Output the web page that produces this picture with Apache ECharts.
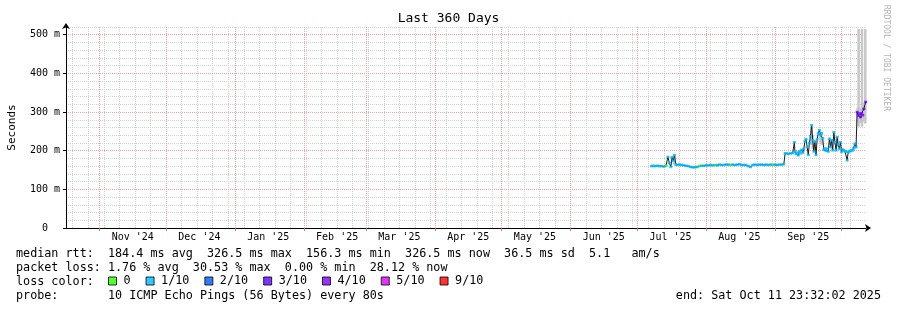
<!DOCTYPE html>
<html>
<head>
<meta charset="utf-8">
<script src="https://cdn.jsdelivr.net/npm/echarts@6/dist/echarts.min.js"></script>
<style>
html,body{margin:0;padding:0;background:#fff;}
#chart{width:897px;height:310px;}
</style>
</head>
<body>
<div id="chart"></div>
<script>
// ---------------- data ----------------
const endTime = '2025-10-11 23:32:02';
const spanDays = 360;

const monthStarts = ['2024-11-01','2024-12-01','2025-01-01','2025-02-01','2025-03-01','2025-04-01','2025-05-01','2025-06-01','2025-07-01','2025-08-01','2025-09-01','2025-10-01'];
const monthLabels = ["Nov '24","Dec '24","Jan '25","Feb '25","Mar '25","Apr '25","May '25","Jun '25","Jul '25","Aug '25","Sep '25","Oct '25"];
const firstWeekLine = '2024-10-20';

const yTickValues = [0,100,200,300,400,500];
const yTickLabels = ['0  ','100 m','200 m','300 m','400 m','500 m'];
const yMinorValues = [20,40,60,80,120,140,160,180,220,240,260,280,320,340,360,380,420,440,460,480,520];

const rttTimes = [
 '2025-07-07 12:00','2025-07-08 00:00','2025-07-09 00:00','2025-07-10 00:00','2025-07-11 00:00','2025-07-12 00:00','2025-07-13 00:00',
 '2025-07-14 00:00','2025-07-14 20:00','2025-07-15 12:00','2025-07-16 04:00','2025-07-16 16:00','2025-07-17 06:00','2025-07-17 20:00','2025-07-18 10:00',
 '2025-07-19 00:00','2025-07-20 00:00','2025-07-21 00:00','2025-07-22 00:00','2025-07-23 00:00','2025-07-24 00:00','2025-07-25 00:00',
 '2025-07-26 00:00','2025-07-27 00:00','2025-07-28 00:00','2025-07-29 00:00','2025-07-30 00:00','2025-07-31 00:00',
 '2025-08-01 00:00','2025-08-02 00:00','2025-08-03 00:00','2025-08-04 00:00','2025-08-05 00:00','2025-08-06 00:00','2025-08-07 00:00',
 '2025-08-08 00:00','2025-08-09 00:00','2025-08-10 00:00','2025-08-11 00:00','2025-08-12 00:00','2025-08-13 00:00','2025-08-14 00:00',
 '2025-08-15 00:00','2025-08-16 00:00','2025-08-17 00:00','2025-08-18 00:00','2025-08-19 00:00','2025-08-20 00:00','2025-08-21 00:00',
 '2025-08-22 00:00','2025-08-23 00:00','2025-08-24 00:00','2025-08-25 00:00','2025-08-26 00:00','2025-08-27 00:00','2025-08-28 00:00',
 '2025-08-29 00:00','2025-08-30 00:00','2025-08-31 00:00','2025-09-01 00:00','2025-09-02 00:00','2025-09-03 00:00','2025-09-04 00:00',
 '2025-09-05 00:00','2025-09-05 14:00','2025-09-06 00:00','2025-09-07 00:00','2025-09-08 00:00','2025-09-09 00:00','2025-09-09 18:00',
 '2025-09-10 00:00','2025-09-10 12:00','2025-09-11 00:00','2025-09-11 12:00','2025-09-12 00:00','2025-09-12 12:00','2025-09-13 00:00',
 '2025-09-13 12:00','2025-09-14 00:00','2025-09-14 12:00','2025-09-15 00:00','2025-09-15 12:00','2025-09-16 00:00','2025-09-16 12:00',
 '2025-09-17 00:00','2025-09-17 12:00','2025-09-18 00:00','2025-09-18 12:00','2025-09-19 00:00','2025-09-19 12:00','2025-09-20 00:00',
 '2025-09-20 12:00','2025-09-21 00:00','2025-09-21 12:00','2025-09-22 00:00','2025-09-22 12:00','2025-09-23 00:00','2025-09-23 12:00',
 '2025-09-24 00:00','2025-09-24 12:00','2025-09-25 00:00','2025-09-25 12:00','2025-09-26 00:00','2025-09-26 12:00','2025-09-27 00:00',
 '2025-09-27 12:00','2025-09-28 00:00','2025-09-28 12:00','2025-09-29 00:00','2025-09-29 12:00','2025-09-30 00:00','2025-09-30 12:00',
 '2025-10-01 00:00','2025-10-01 12:00','2025-10-02 00:00','2025-10-02 12:00','2025-10-03 00:00','2025-10-03 12:00','2025-10-04 00:00',
 '2025-10-04 12:00','2025-10-05 00:00','2025-10-05 12:00','2025-10-06 00:00','2025-10-06 12:00','2025-10-07 00:00','2025-10-07 12:00',
 '2025-10-08 00:00','2025-10-08 12:00','2025-10-09 00:00','2025-10-09 12:00','2025-10-10 00:00','2025-10-10 12:00','2025-10-11 00:00',
 '2025-10-11 20:00'
];
const rttValues = [
 160,161,160,161,160,160,159,
 161,184,168,158,183,174,188,164,
 163,164,163,162,161,160,158,
 157,157,158,160,161,161,
 162,162,163,162,163,162,164,
 163,163,164,164,163,164,163,
 164,165,163,163,163,160,158,
 163,164,163,164,164,163,164,
 163,164,163,164,163,164,164,
 165,193,193,192,193,194,222,
 198,192,195,188,198,193,202,
 195,205,224,230,210,189,220,
 237,266,227,198,224,189,230,
 245,253,240,245,232,202,206,
 200,205,198,231,210,227,201,
 248,222,201,235,215,205,222,
 197,203,201,199,197,175,197,
 199,199,201,201,206,218,210,
 300,291,296,287,297,292,308,
 326
];
const lossTenths = [
 1,1,1,1,1,1,1,
 0,1,1,1,1,1,1,1,
 1,1,1,1,1,1,1,
 1,1,1,0,1,1,
 1,1,1,1,0,1,1,
 1,1,1,1,0,1,1,
 1,1,1,1,1,1,1,
 1,1,1,1,1,1,1,
 1,1,0,1,1,1,1,
 1,1,1,1,1,1,1,
 1,1,1,1,1,1,1,
 1,1,1,1,1,1,1,
 1,1,1,1,1,1,1,
 1,1,1,1,1,1,1,
 1,1,1,1,1,1,1,
 1,1,1,1,1,1,1,
 1,1,1,1,1,1,1,
 1,1,1,1,1,1,1,
 3,4,3,3,4,3,3,
 3
];

const smokeTimes = ['2025-07-17 12:00','2025-09-17 12:00','2025-09-18 00:00','2025-09-21 12:00','2025-09-22 00:00','2025-09-26 12:00','2025-09-29 00:00','2025-10-07 12:00',
 '2025-10-08 06:00','2025-10-08 16:00','2025-10-09 06:00','2025-10-10 04:00','2025-10-10 18:00','2025-10-11 06:00','2025-10-11 16:00'];
const smokeLow  = [165,215,205,220,215,205,210,205, 272,262,272,262,275,280,270];
const smokeHigh = [190,262,240,250,248,228,238,222, 312,515,310,515,318,325,515];

const lossNames  = ['0','1/10','2/10','3/10','4/10','5/10','9/10'];
const lossBins   = [0,1,2,3,4,5,9];
const lossColors = ['#26ff00','#00b8ff','#0059ff','#5e00ff','#7e00ff','#dd00ff','#ff0000'];

const textRows = [
 'median rtt:  184.4 ms avg  326.5 ms max  156.3 ms min  326.5 ms now  36.5 ms sd  5.1   am/s',
 'packet loss: 1.76 % avg  30.53 % max  0.00 % min  28.12 % now',
 'loss color:',
 'probe:       10 ICMP Echo Pings (56 Bytes) every 80s'
];
const endText = 'end: Sat Oct 11 23:32:02 2025';
const titleText = 'Last 360 Days';
const watermark = 'RRDTOOL / TOBI OETIKER';

// ---------------- helpers ----------------
function toMs(s){
  const m = s.match(/(\d+)-(\d+)-(\d+)(?:[ T](\d+):(\d+)(?::(\d+))?)?/);
  return Date.UTC(+m[1], +m[2]-1, +m[3], +(m[4]||0), +(m[5]||0), +(m[6]||0));
}
const DAY = 86400000;
const endMs = toMs(endTime);
const startMs = endMs - spanDays*DAY;
const monthMs = monthStarts.map(toMs);
const labelMs = monthMs.map(v => v + 15*DAY);
const labelMap = {};
labelMs.forEach((v,i)=>{ labelMap[v] = monthLabels[i]; });
const weekMs = [];
for (let t = toMs(firstWeekLine); t <= endMs; t += 7*DAY) weekMs.push(t);
const yLabelMap = {};
yTickValues.forEach((v,i)=>{ yLabelMap[v] = yTickLabels[i]; });

const MONO = '"DejaVu Sans Mono", monospace';
const textFont = '11.75px "DejaVu Sans Mono", monospace';

const lineData = rttTimes.map((t,i)=>[toMs(t), rttValues[i]]);
function binIndex(l){ let k = 0; for (let j=0;j<lossBins.length;j++) if (l >= lossBins[j]) k = j; return k; }
const lossSeries = lossNames.map((name, k) => ({
  name: name,
  type: 'scatter',
  xAxisIndex: 0, yAxisIndex: 0,
  symbol: 'rect',
  symbolSize: [3, 2.5],
  silent: true,
  z: 4,
  itemStyle: { color: lossColors[k] },
  data: rttTimes.map((t,i)=>[toMs(t), rttValues[i], lossTenths[i]]).filter(d => binIndex(d[2]) === k).map(d=>[d[0], d[1]])
}));
const smokeData = smokeTimes.map((t,i)=>[toMs(t), smokeLow[i], smokeHigh[i]]);

const chart = echarts.init(document.getElementById('chart'), null, {renderer:'canvas'});
const option = {
  backgroundColor: '#ffffff',
  animation: false,
  grid: { left: 66, right: 31, top: 27, bottom: 82, containLabel: false, outerBoundsMode: 'none' },
  legend: {
    data: lossNames,
    left: 108, top: 275,
    padding: 0,
    itemWidth: 8, itemHeight: 8, itemGap: 15,
    icon: 'rect',
    selectedMode: false,
    itemStyle: { borderColor: '#000', borderWidth: 1 },
    textStyle: { fontSize: 11.75, fontFamily: MONO, color: '#000', padding: [0,0,0,2] }
  },
  xAxis: [
    {
      type: 'value', min: startMs, max: endMs, position: 'bottom', z: 2,
      axisLine: { show: true, onZero: false, lineStyle: { color: '#000', width: 1 }, symbol: ['none','arrow'], symbolSize: [6,6], symbolOffset: [0,5] },
      axisTick: { show: true, length: 3, customValues: monthMs, lineStyle: { color: '#e07070' } },
      axisLabel: { customValues: labelMs, formatter: v => labelMap[v] || '', fontSize: 10, fontFamily: MONO, color: '#000', margin: 4 },
      splitLine: { show: true, lineStyle: { color: '#eda3a3', type: [1,1], width: 1 } }
    },
    {
      type: 'value', min: startMs, max: endMs, position: 'top', z: 1,
      axisLine: { show: false },
      axisTick: { show: false, customValues: weekMs },
      axisLabel: { show: false },
      splitLine: { show: true, lineStyle: { color: '#d2d2d2', type: [1,1], width: 1 } }
    }
  ],
  yAxis: [
    {
      type: 'value', min: 0, max: 520, position: 'left', z: 2,
      name: 'Seconds', nameLocation: 'middle', nameGap: 48,
      nameTextStyle: { fontSize: 11, fontFamily: MONO, color: '#000' },
      axisLine: { show: true, onZero: false, lineStyle: { color: '#000', width: 1 }, symbol: ['none','arrow'], symbolSize: [6,6], symbolOffset: [0,4] },
      axisTick: { show: true, length: 3, customValues: yTickValues, lineStyle: { color: '#000' } },
      axisLabel: { customValues: yTickValues, formatter: v => (v in yLabelMap ? yLabelMap[v] : ''), fontSize: 10, fontFamily: MONO, color: '#000', margin: 6 },
      splitLine: { show: true, lineStyle: { color: '#eda3a3', type: [1,1], width: 1 } }
    },
    {
      type: 'value', min: 0, max: 520, position: 'right', z: 1,
      axisLine: { show: false },
      axisTick: { show: false, customValues: yMinorValues },
      axisLabel: { show: false },
      splitLine: { show: true, lineStyle: { color: '#d2d2d2', type: [1,1], width: 1 } }
    }
  ],
  series: [
    {
      name: 'smoke', type: 'custom', xAxisIndex: 0, yAxisIndex: 0, silent: true, z: 2,
      encode: { x: 0, y: [1,2] },
      data: smokeData,
      renderItem: function (params, api) {
        const top = api.coord([api.value(0), api.value(2)]);
        const bot = api.coord([api.value(0), api.value(1)]);
        return { type: 'rect', shape: { x: top[0]-1.25, y: top[1], width: 2.5, height: bot[1]-top[1] }, style: { fill: '#c6c6c6' } };
      }
    },
    {
      name: 'median', type: 'line', xAxisIndex: 0, yAxisIndex: 0, silent: true, z: 3,
      showSymbol: false, symbol: 'none',
      lineStyle: { color: '#1a1a1a', width: 1 },
      data: lineData
    }
  ].concat(lossSeries),
  graphic: [
    { type: 'text', x: 448.5, y: 19, style: { text: titleText, font: '13px "DejaVu Sans Mono", monospace', fill: '#000', align: 'center', verticalAlign: 'middle' } },
    { type: 'text', x: 886, y: 5, rotation: -Math.PI/2, style: { text: watermark, font: '8px "DejaVu Sans Mono", monospace', fill: '#b4b4b4', align: 'left', verticalAlign: 'middle' } },
    { type: 'text', x: 16, y: 254, style: { text: textRows[0], font: textFont, fill: '#000', verticalAlign: 'middle' } },
    { type: 'text', x: 16, y: 268, style: { text: textRows[1], font: textFont, fill: '#000', verticalAlign: 'middle' } },
    { type: 'text', x: 16, y: 282, style: { text: textRows[2], font: textFont, fill: '#000', verticalAlign: 'middle' } },
    { type: 'text', x: 16, y: 296, style: { text: textRows[3], font: textFont, fill: '#000', verticalAlign: 'middle' } },
    { type: 'text', x: 881, y: 296, style: { text: endText, font: textFont, fill: '#000', align: 'right', verticalAlign: 'middle' } }
  ]
};
chart.setOption(option);
</script>
</body>
</html>
